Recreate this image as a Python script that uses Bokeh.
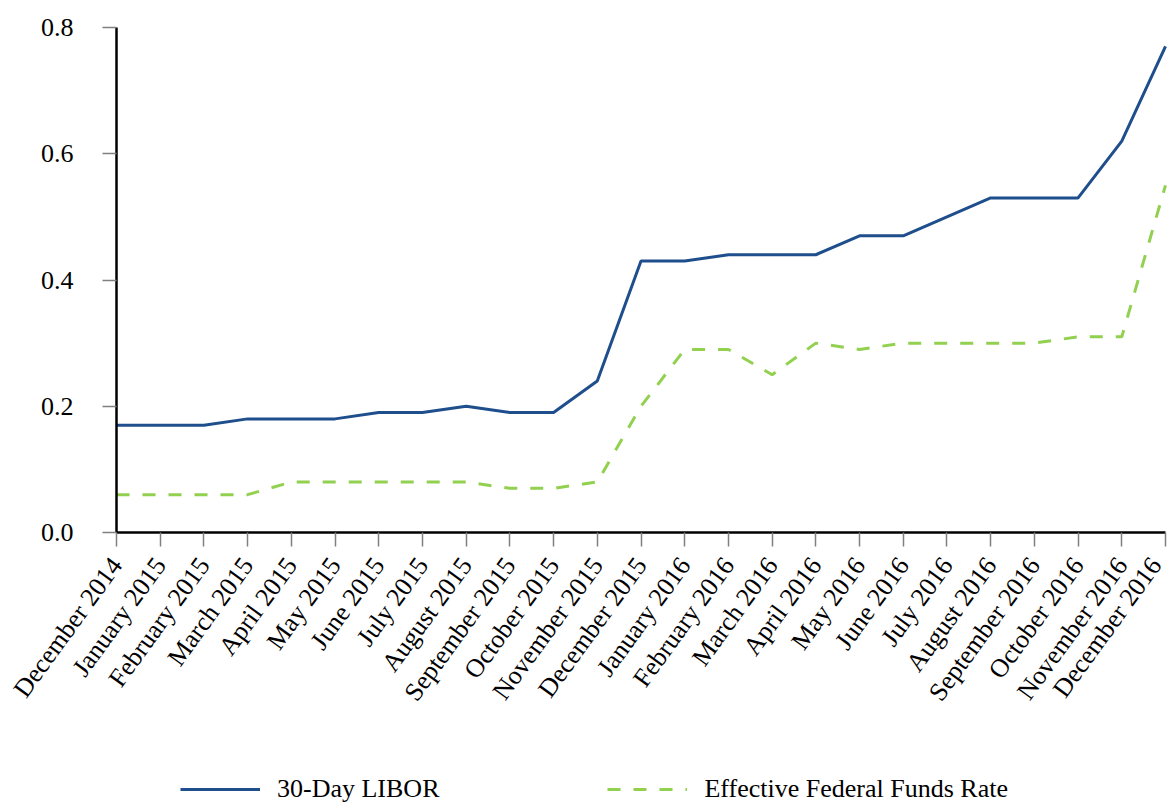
import math
from bokeh.plotting import figure
from bokeh.models import Range1d, FixedTicker, Legend, LegendItem
from bokeh.embed import file_html
from bokeh.resources import INLINE

months = ["December 2014", "January 2015", "February 2015", "March 2015", "April 2015",
          "May 2015", "June 2015", "July 2015", "August 2015", "September 2015",
          "October 2015", "November 2015", "December 2015", "January 2016", "February 2016",
          "March 2016", "April 2016", "May 2016", "June 2016", "July 2016", "August 2016",
          "September 2016", "October 2016", "November 2016", "December 2016"]
libor = [0.17, 0.17, 0.17, 0.18, 0.18, 0.18, 0.19, 0.19, 0.20, 0.19, 0.19, 0.24, 0.43,
         0.43, 0.44, 0.44, 0.44, 0.47, 0.47, 0.50, 0.53, 0.53, 0.53, 0.62, 0.77]
effr = [0.06, 0.06, 0.06, 0.06, 0.08, 0.08, 0.08, 0.08, 0.08, 0.07, 0.07, 0.08, 0.20,
        0.29, 0.29, 0.25, 0.30, 0.29, 0.30, 0.30, 0.30, 0.30, 0.31, 0.31, 0.55]
y_ticks = [0.0, 0.2, 0.4, 0.6, 0.8]
y_labels = ["0.0", "0.2", "0.4", "0.6", "0.8"]

FONT = "Liberation Serif"
FS = "26px"

W, H = 1167, 804
# pixel positions of the data extremes on the canvas
X0_PX, X1_PX = 116, 1165   # first / last month
Y0_PX, Y1_PX = 532, 27     # value 0.0 / 0.8

n = len(months)
x_per_px = (n - 1) / (X1_PX - X0_PX)
x_start = -X0_PX * x_per_px
x_end = (n - 1) + (W - X1_PX) * x_per_px
y_top_val = 0.8
y_per_px = y_top_val / (Y0_PX - Y1_PX)
y_start = -(H - Y0_PX) * y_per_px
y_end = y_top_val + Y1_PX * y_per_px

xs = list(range(n))

p = figure(width=W, height=H, output_backend="svg", toolbar_location=None,
           x_range=Range1d(x_start, x_end), y_range=Range1d(y_start, y_end),
           min_border_left=0, min_border_top=0, min_border_right=0,
           min_border_bottom=0)
p.outline_line_color = None
p.xgrid.visible = False
p.ygrid.visible = False
p.background_fill_color = "white"
p.border_fill_color = "white"

r1 = p.line(xs, libor, line_color="#1F4E8C", line_width=3)
r2 = p.line(xs, effr, line_color="#92D050", line_width=3, line_dash="13 13")

for ax in (p.xaxis[0], p.yaxis[0]):
    ax.axis_line_color = "black"
    ax.axis_line_width = 2.5
    ax.major_tick_line_color = "#808080"
    ax.major_tick_line_width = 1.5
    ax.major_tick_in = 0
    ax.major_tick_out = 14
    ax.minor_tick_line_color = None
    ax.major_label_text_font = FONT
    ax.major_label_text_font_size = FS
    ax.major_label_text_color = "black"

p.xaxis.fixed_location = 0
p.xaxis.bounds = (0, n - 1)
p.xaxis.ticker = FixedTicker(ticks=xs)
p.xaxis.major_label_overrides = {i: m for i, m in enumerate(months)}
p.xaxis.major_label_orientation = math.radians(54)
p.xaxis.major_label_standoff = 14

p.yaxis.fixed_location = 0
p.yaxis.bounds = (0, y_top_val)
p.yaxis.ticker = FixedTicker(ticks=y_ticks)
p.yaxis.major_label_overrides = {t: l for t, l in zip(y_ticks, y_labels)}
p.yaxis.major_label_standoff = 29

legend = Legend(items=[LegendItem(label="30-Day LIBOR", renderers=[r1]),
                       LegendItem(label="Effective Federal Funds Rate", renderers=[r2])],
                location=(180, 0), orientation="horizontal",
                glyph_width=80, label_standoff=17, spacing=168,
                padding=0, margin=0, border_line_color=None,
                background_fill_alpha=0,
                label_text_font=FONT, label_text_font_size=FS,
                label_text_color="black")
p.add_layout(legend, "center")

open("out.html", "w").write(file_html(p, INLINE))
